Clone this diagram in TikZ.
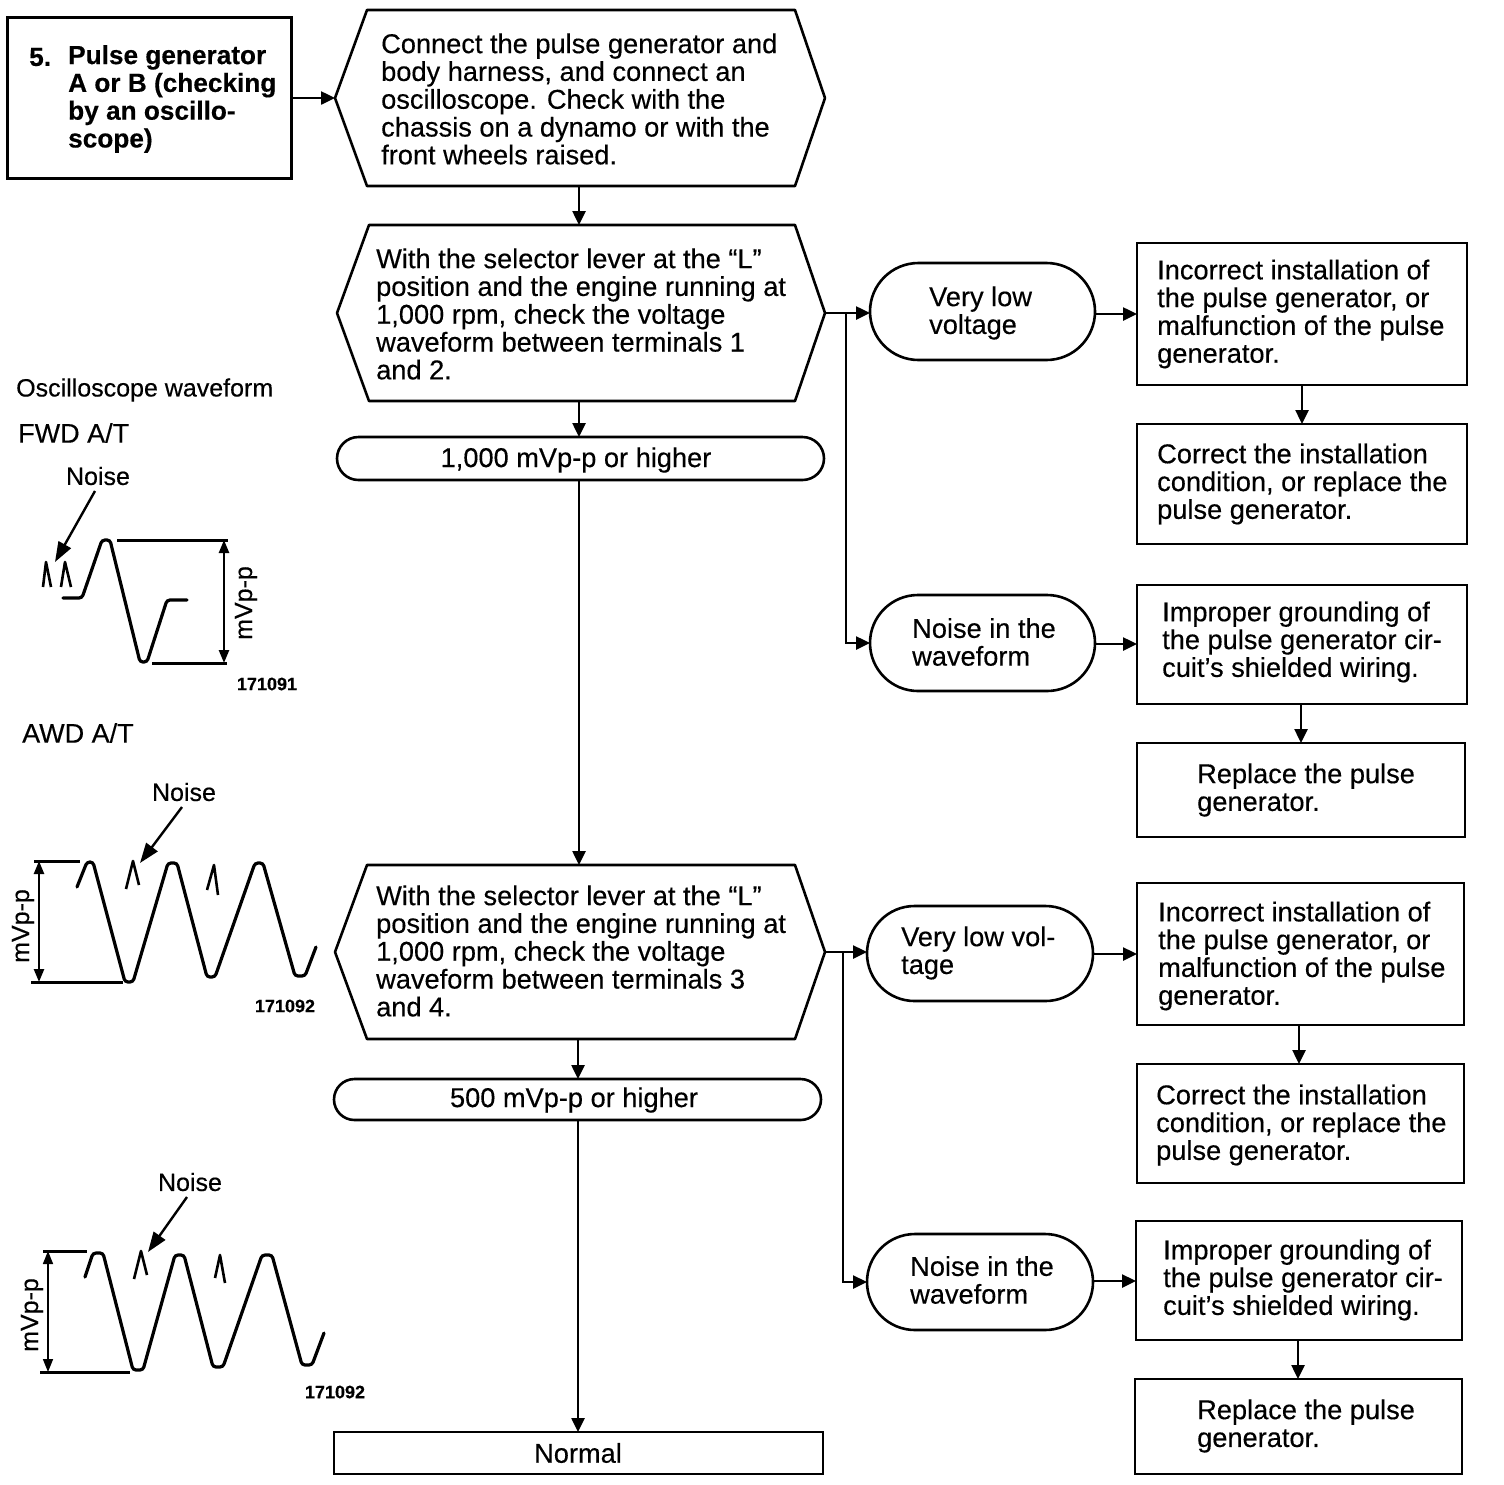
\documentclass[tikz,border=0pt]{standalone}
\usepackage{fontspec}
\setmainfont[FakeBold=0.35]{Liberation Sans}
\usetikzlibrary{arrows.meta,calc,shapes.misc}
\newcommand\myshape[6]{\node[#1,minimum width={(#5-#3)*1pt},minimum height={(#6-#4)*1pt}] (#2) at ({(#3+#5)/2},{(#4+#6)/2}) {};}
\newcommand\myhexa[6]{\node[hexanchor,minimum width={(#4-#2)*1pt},minimum height={(#5-#3)*1pt}] (#1) at ({(#2+#4)/2},{#6}) {};
 \draw[shapeline,line join=round] (#2,#6) -- (#2+32,#3) -- (#4-30,#3) -- (#4,#6) -- (#4-30,#5) -- (#2+32,#5) -- cycle;}
\newcommand\mylabel[4]{\node[bodytext] (#1) at (#2,#3) {#4};}
\begin{document}
\begin{tikzpicture}[x=1pt,y=-1pt,
 shapeline/.style={line width=2.6pt,draw=black},
 hexanchor/.style={inner sep=0pt,outer sep=0pt},
 plainbox/.style={shapeline,rectangle,inner sep=0pt,outer sep=0pt},
 pill/.style={shapeline,rounded rectangle,rounded rectangle arc length=180,inner sep=0pt,outer sep=0pt},
 bodytext/.style={anchor=west,align=left,inner sep=0pt,font=\fontsize{27.2}{27.8}\selectfont},
 small/.style={inner sep=0pt,font=\fontsize{25}{26}\selectfont},
 code/.style={inner sep=0pt,font=\bfseries\fontsize{18}{19}\selectfont},
 link/.style={line width=2.5pt,-{Triangle[length=14pt,width=13pt]}},
 wave/.style={line width=3.2pt,rounded corners=3pt,line cap=round},
 spike/.style={line width=2.6pt,line join=round},
 rule/.style={line width=3pt},
 dim/.style={line width=2.4pt,{Triangle[length=13pt,width=10pt]}-{Triangle[length=13pt,width=10pt]}},
 pointer/.style={line width=2.4pt,-{Triangle[length=20pt,width=14pt]}}]
\fill[white] (0,0) rectangle (1504,1484);
\useasboundingbox (0,0) rectangle (1504,1484);
% start box
\myshape{plainbox,line width=3pt}{start}{7}{17}{291}{178}
\node[bodytext,font=\bfseries\fontsize{26.2}{27.8}\selectfont] (startnum) at (29,57) {5.};
\node[bodytext,font=\bfseries\fontsize{26.2}{27.8}\selectfont] (starttext) at (68,99) {Pulse generator\\A or B (checking\\by an oscillo-\\scope)};
% hexagons
\myhexa{h1}{335}{10}{825}{186}{98}
\mylabel{h1t}{381}{99}{Connect the pulse generator and\\body harness, and connect an\\oscilloscope. Check with the\\chassis on a dynamo or with the\\front wheels raised.}
\myhexa{h2}{337}{225}{825}{401}{313}
\mylabel{h2t}{376}{314}{With the selector lever at the “L”\\position and the engine running at\\1,000 rpm, check the voltage\\waveform between terminals 1\\and 2.}
\myhexa{h3}{335}{865}{825}{1039}{952}
\mylabel{h3t}{376}{951}{With the selector lever at the “L”\\position and the engine running at\\1,000 rpm, check the voltage\\waveform between terminals 3\\and 4.}
% centre pills and end
\myshape{pill}{p1}{337}{437}{824}{480}
\node[bodytext,anchor=center] (p1t) at (576,460) {1,000 mVp-p or higher};
\myshape{pill}{p2}{334}{1079}{821}{1120}
\node[bodytext,anchor=center] (p2t) at (574,1100) {500 mVp-p or higher};
\myshape{plainbox}{normal}{334}{1432}{823}{1474}
\node[bodytext,anchor=center] (normalt) at (578,1453) {Normal};
% right upper
\myshape{pill}{pa}{870}{263}{1095}{360}
\mylabel{pat}{929}{313}{Very low\\voltage}
\myshape{plainbox}{ba}{1137}{243}{1467}{385}
\mylabel{bat}{1157}{314}{Incorrect installation of\\the pulse generator, or\\malfunction of the pulse\\generator.}
\myshape{plainbox}{bb}{1137}{424}{1467}{544}
\mylabel{bbt}{1157}{484}{Correct the installation\\condition, or replace the\\pulse generator.}
\myshape{pill}{pc}{870}{595}{1095}{691}
\mylabel{pct}{912}{642}{Noise in the\\waveform}
\myshape{plainbox}{bc}{1137}{585}{1467}{704}
\mylabel{bct}{1162}{642}{Improper grounding of\\the pulse generator cir-\\cuit’s shielded wiring.}
\myshape{plainbox}{bd}{1137}{743}{1465}{837}
\mylabel{bdt}{1197}{790}{Replace the pulse\\generator.}
% right lower
\myshape{pill}{pe}{867}{906}{1093}{1001}
\mylabel{pet}{901}{953}{Very low vol-\\tage}
\myshape{plainbox}{be}{1137}{883}{1464}{1025}
\mylabel{bet}{1158}{956}{Incorrect installation of\\the pulse generator, or\\malfunction of the pulse\\generator.}
\myshape{plainbox}{bf}{1137}{1064}{1464}{1183}
\mylabel{bft}{1156}{1125}{Correct the installation\\condition, or replace the\\pulse generator.}
\myshape{pill}{pg}{867}{1234}{1093}{1330}
\mylabel{pgt}{910}{1280}{Noise in the\\waveform}
\myshape{plainbox}{bg}{1136}{1221}{1462}{1340}
\mylabel{bgt}{1163}{1280}{Improper grounding of\\the pulse generator cir-\\cuit’s shielded wiring.}
\myshape{plainbox}{bh}{1135}{1379}{1462}{1474}
\mylabel{bht}{1197}{1426}{Replace the pulse\\generator.}
% connectors
\draw[link] (start.east |- h1.west) -- (h1.west);
\coordinate (c1) at (579,186); \coordinate (c2) at (579,225);
\draw[link] (c1) -- (c2);
\coordinate (c3) at (579,401); \coordinate (c4) at (579,437);
\draw[link] (c3) -- (c4);
\coordinate (c5) at (579,480); \coordinate (c6) at (579,865);
\draw[link] (c5) -- (c6);
\coordinate (c7) at (578,1039); \coordinate (c8) at (578,1079);
\draw[link] (c7) -- (c8);
\coordinate (c9) at (578,1120);
\draw[link] (c9) -- (c9 |- normal.north);
\coordinate (j1) at (846,313);
\draw[link] (h2.east) -- (h2.east -| pa.west);
\draw[link] (j1) |- (pc.west);
\coordinate (j2) at (843,952);
\draw[link] (h3.east) -- (h3.east -| pe.west);
\draw[link] (j2) |- (pg.west);
\draw[link] (pa.east |- 0,314) -- (ba.west |- 0,314);
\draw[link] (pc.east |- 0,644) -- (bc.west |- 0,644);
\draw[link] (pe.east |- 0,954) -- (be.west |- 0,954);
\draw[link] (pg.east |- 0,1281) -- (bg.west |- 0,1281);
\draw[link] (1302,385) -- (1302,424);
\draw[link] (1301,704) -- (1301,743);
\draw[link] (1299,1025) -- (1299,1064);
\draw[link] (1298,1340) -- (1298,1379);
% captions
\node[small,anchor=west] (cap) at (16,390) {Oscilloscope waveform};
\node[small,anchor=west,font=\fontsize{27}{28}\selectfont] (fwd) at (18,433) {FWD A/T};
\node[small,anchor=west,font=\fontsize{27}{28}\selectfont] (awd) at (22,733) {AWD A/T};
% FWD waveform
\node[small] (n1) at (98,476) {Noise};
\coordinate (n1p) at (55,562);
\draw[pointer] (95,491) -- (n1p);
\draw[wave] (63,598) -- (82,598) -- (102,540) -- (110,540) -- (140,662) -- (147,662) -- (167,600) -- (187,600);
\draw[spike] (43,587) -- (46,562) -- (51,587);
\draw[spike] (61,587) -- (65,562) -- (71,587);
\draw[rule] (117,540) -- (228,540);
\draw[rule] (152,663) -- (227,663);
\coordinate (d1a) at (224,540); \coordinate (d1b) at (224,663);
\draw[dim] (d1a) -- (d1b);
\node[small,rotate=90] (mv1) at (246,603) {mVp-p};
\node[code] (id1) at (267,684) {171091};
% AWD waveform 1
\node[small] (n2) at (184,792) {Noise};
\coordinate (n2p) at (140,863);
\draw[pointer] (182,807) -- (n2p);
\draw[wave] (77,887) -- (87,862) -- (93,862) -- (125,982) -- (133,982) -- (168,863) -- (177,863) -- (207,977) -- (215,977) -- (255,863) -- (263,863) -- (295,976) -- (305,976) -- (316,947);
\draw[spike] (126,889) -- (133,861) -- (139,885);
\draw[spike] (207,890) -- (214,865) -- (218,895);
\draw[rule] (34,861) -- (80,861);
\draw[rule] (31,982) -- (123,982);
\coordinate (d2a) at (39,861); \coordinate (d2b) at (39,982);
\draw[dim] (d2a) -- (d2b);
\node[small,rotate=90] (mv2) at (23,926) {mVp-p};
\node[code] (id2) at (285,1006) {171092};
% AWD waveform 2
\node[small] (n3) at (190,1182) {Noise};
\coordinate (n3p) at (148,1252);
\draw[pointer] (187,1197) -- (n3p);
\draw[wave] (85,1277) -- (93,1253) -- (103,1253) -- (133,1370) -- (143,1370) -- (175,1255) -- (184,1255) -- (213,1367) -- (223,1367) -- (262,1255) -- (272,1255) -- (302,1365) -- (312,1365) -- (324,1333);
\draw[spike] (134,1279) -- (141,1251) -- (147,1275);
\draw[spike] (215,1278) -- (220,1255) -- (225,1283);
\draw[rule] (43,1251) -- (87,1251);
\draw[rule] (40,1372) -- (130,1372);
\coordinate (d3a) at (48,1251); \coordinate (d3b) at (48,1372);
\draw[dim,line width=1.6pt] (d3a) -- (d3b);
\node[small,rotate=90] (mv3) at (32,1315) {mVp-p};
\node[code] (id3) at (335,1392) {171092};
\end{tikzpicture}
\end{document}
